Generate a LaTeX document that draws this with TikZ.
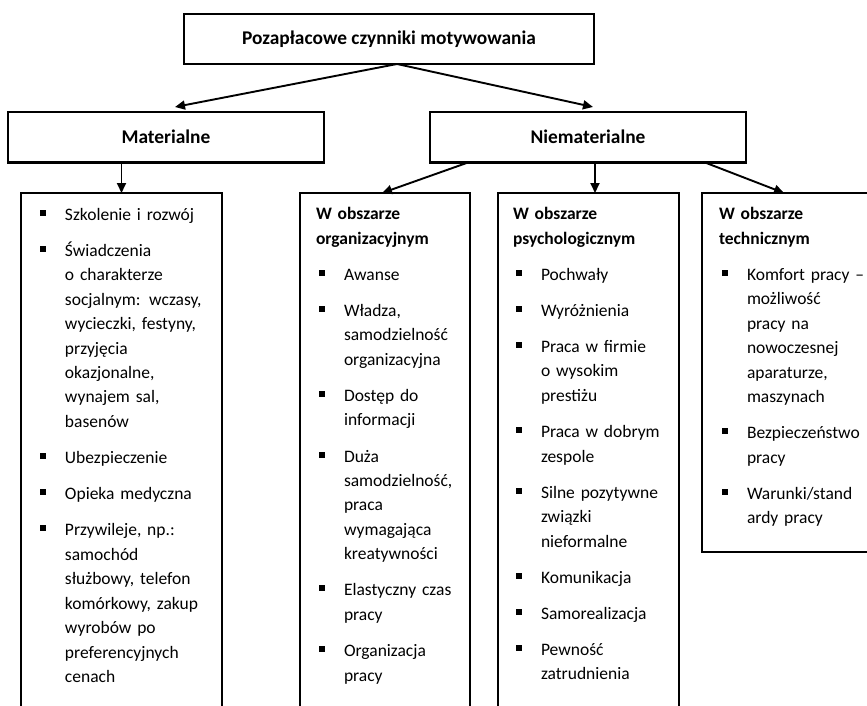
\documentclass[tikz,border=0pt]{standalone}
\usepackage{fontspec}
\setmainfont{Carlito}
\usetikzlibrary{arrows.meta}
\newcommand{\bq}{\raisebox{4.5pt}{\rule{6pt}{6pt}}}
\newcommand{\itemline}[1]{\par\vspace{11.7pt}{\leftskip=28pt\noindent\llap{\bq\hspace{19.5pt}}#1\par}}
\newcommand{\firstitem}[1]{{\leftskip=28pt\noindent\llap{\bq\hspace{19.5pt}}\strut#1\par}}
\newcommand{\hdr}[2]{\noindent\strut\textbf{#1}\\\textbf{#2}\par}
\newcommand{\setupbox}{\raggedright\parindent=0pt\parskip=0pt\hyphenpenalty=10000}
\begin{document}
\begin{tikzpicture}[x=1pt,y=-1pt,
  bx/.style={draw,line width=2.7pt,inner sep=0pt,outer sep=0pt},
  top/.style={bx,font={\fontsize{19.4pt}{23pt}\selectfont\bfseries}},
  txt/.style={anchor=north west,inner sep=0pt,outer sep=0pt,text width=190pt,
    font={\fontsize{17.5pt}{24.45pt}\selectfont}},
  arr/.style={line width=1.9pt,-{Triangle[length=10pt,width=9pt]}}]
\fill[white] (0,0) rectangle (867,706);
\useasboundingbox (0,0) rectangle (867,706);

\node[top,minimum width=410pt,minimum height=50pt] (title) at (389,39) {Pozapłacowe czynniki motywowania};
\node[top,minimum width=316pt,minimum height=50.5pt] (mat) at (166,137.25) {Materialne};
\node[top,minimum width=316pt,minimum height=50.5pt] (nie) at (588,137.25) {Niematerialne};

\node[bx,anchor=north west,minimum width=201pt,minimum height=540pt] (b1) at (21,193) {};
\node[bx,anchor=north west,minimum width=170pt,minimum height=540pt] (b2) at (300,193) {};
\node[bx,anchor=north west,minimum width=181pt,minimum height=540pt] (b3) at (498,193) {};
\node[bx,anchor=north west,minimum width=180pt,minimum height=359pt] (b4) at (702,193) {};

\coordinate (mtip) at (175,107);
\coordinate (ntip) at (593,107);
\draw[arr] ([xshift=8pt]title.south) -- (mtip);
\draw[arr] ([xshift=8pt]title.south) -- (ntip);
\draw[arr] (mat.south -| b1.north) -- (b1.north);
\draw[arr] ([xshift=-120pt]nie.south) -- ([xshift=-3pt]b2.north);
\draw[arr] ([xshift=7pt]nie.south) -- ([xshift=7pt]nie.south |- b3.north);
\draw[arr] ([xshift=117pt]nie.south) -- ([xshift=-8pt]b4.north);

\node[txt] (t1) at (37,203) {\setupbox
\firstitem{Szkolenie i rozwój}
\itemline{Świadczenia\\o charakterze\\socjalnym: wczasy,\\wycieczki, festyny,\\przyjęcia\\okazjonalne,\\wynajem sal,\\basenów}
\itemline{Ubezpieczenie}
\itemline{Opieka medyczna}
\itemline{Przywileje, np.:\\samochód\\służbowy, telefon\\komórkowy, zakup\\wyrobów po\\preferencyjnych\\cenach}};

\node[txt] (t2) at (316,202.5) {\setupbox
\hdr{W obszarze}{organizacyjnym}
\itemline{Awanse}
\itemline{Władza,\\samodzielność\\organizacyjna}
\itemline{Dostęp do\\informacji}
\itemline{Duża\\samodzielność,\\praca\\wymagająca\\kreatywności}
\itemline{Elastyczny czas\\pracy}
\itemline{Organizacja\\pracy}};

\node[txt] (t3) at (513,202.5) {\setupbox
\hdr{W obszarze}{psychologicznym}
\itemline{Pochwały}
\itemline{Wyróżnienia}
\itemline{Praca w firmie\\o wysokim\\prestiżu}
\itemline{Praca w dobrym\\zespole}
\itemline{Silne pozytywne\\związki\\nieformalne}
\itemline{Komunikacja}
\itemline{Samorealizacja}
\itemline{Pewność\\zatrudnienia}};

\node[txt] (t4) at (719,202.5) {\setupbox
\hdr{W obszarze}{technicznym}
\itemline{Komfort pracy –\\możliwość\\pracy na\\nowoczesnej\\aparaturze,\\maszynach}
\itemline{Bezpieczeństwo\\pracy}
\itemline{Warunki/stand\\ardy pracy}};
\end{tikzpicture}
\end{document}
